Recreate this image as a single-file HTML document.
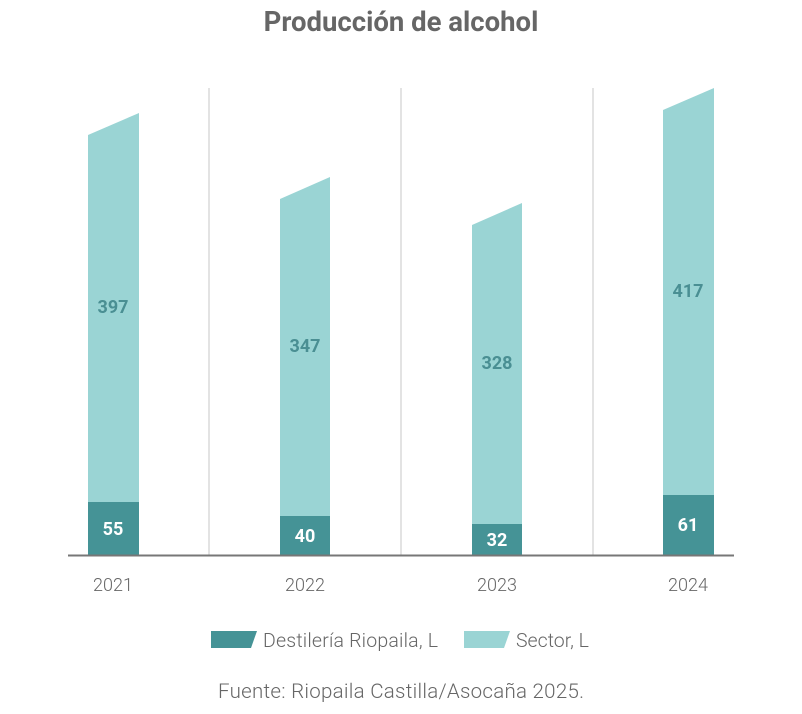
<!DOCTYPE html><html><head><meta charset="utf-8"><style>body{margin:0;background:#fff}svg{display:block}</style></head><body>
<svg width="802" height="714" xmlns="http://www.w3.org/2000/svg" font-family="Roboto, 'Liberation Sans', sans-serif">
<text x="401" y="31" text-anchor="middle" font-size="27.5" font-weight="bold" fill="#666">Producción de alcohol</text>
<g stroke="#e3e3e3" stroke-width="2"><line x1="209" y1="88" x2="209" y2="555"/><line x1="401" y1="88" x2="401" y2="555"/><line x1="593" y1="88" x2="593" y2="555"/></g>
<g fill="#9ad4d4">
<polygon points="88,135 139,113 139,502 88,502"/>
<polygon points="280,199 330,177 330,516 280,516"/>
<polygon points="472,225 522,203 522,524 472,524"/>
<polygon points="663,110 714,88 714,495 663,495"/>
</g>
<g fill="#459396">
<rect x="88" y="502" width="51" height="53"/>
<rect x="280" y="516" width="50" height="39"/>
<rect x="472" y="524" width="50" height="31"/>
<rect x="663" y="495" width="51" height="60"/>
</g>
<line x1="68" y1="555.5" x2="734" y2="555.5" stroke="#777" stroke-width="2"/>
<g font-size="18" font-weight="bold" text-anchor="middle" fill="#4a8f93">
<text x="113" y="313">397</text><text x="305" y="352">347</text><text x="497" y="369">328</text><text x="688" y="297">417</text>
</g>
<g font-size="18" font-weight="bold" text-anchor="middle" fill="#fff">
<text x="113" y="535">55</text><text x="305" y="542">40</text><text x="497" y="546">32</text><text x="688" y="531">61</text>
</g>
<g font-size="18" font-weight="300" text-anchor="middle" fill="#666">
<text x="113" y="591">2021</text><text x="305" y="591">2022</text><text x="497" y="591">2023</text><text x="688" y="591">2024</text>
</g>
<polygon points="211,631 257,631 251,648 211,648" fill="#459396"/>
<text x="263" y="647" font-size="19.5" font-weight="300" fill="#666" textLength="175">Destilería Riopaila, L</text>
<polygon points="464,631 510,631 504,648 464,648" fill="#9ad4d4"/>
<text x="516" y="647" font-size="19.5" font-weight="300" fill="#666">Sector, L</text>
<text x="401" y="698" text-anchor="middle" font-size="20.5" font-weight="300" fill="#666" textLength="366">Fuente: Riopaila Castilla/Asocaña 2025.</text>
</svg></body></html>
